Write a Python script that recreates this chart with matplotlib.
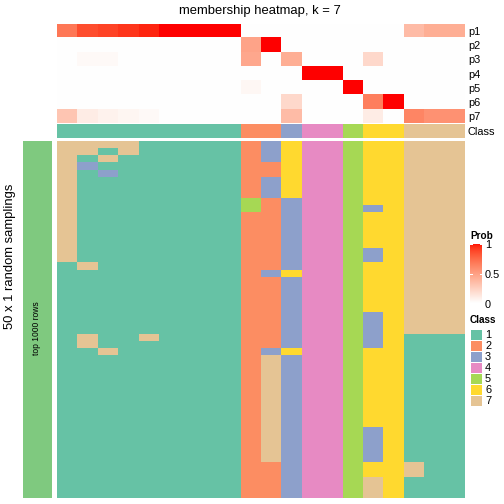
import numpy as np
import matplotlib
matplotlib.use("Agg")
import matplotlib.pyplot as plt
from matplotlib.colors import ListedColormap
from matplotlib.patches import Rectangle

plt.rcParams['font.family'] = ['Liberation Sans', 'DejaVu Sans']

# ---------------- data ----------------
title = "membership heatmap, k = 7"
prob_names = ["p1", "p2", "p3", "p4", "p5", "p6", "p7"]
p1 = [0.68, 0.85, 0.88, 0.92, 0.96, 1, 1, 1, 1, 0, 0, 0, 0, 0, 0, 0, 0, 0.35, 0.42, 0.42]
p2 = [0, 0, 0, 0, 0, 0, 0, 0, 0, 0.47, 1, 0, 0, 0, 0, 0, 0, 0, 0, 0]
p3 = [0, 0.03, 0.03, 0, 0, 0, 0, 0, 0, 0.45, 0, 0.42, 0, 0, 0, 0.2, 0, 0, 0, 0]
p4 = [0, 0, 0, 0, 0, 0, 0, 0, 0, 0, 0, 0, 1, 1, 0, 0, 0, 0, 0, 0]
p5 = [0, 0, 0, 0, 0, 0, 0, 0, 0, 0.04, 0, 0, 0, 0, 1, 0, 0, 0, 0, 0]
p6 = [0, 0, 0, 0, 0, 0, 0, 0, 0, 0, 0, 0.2, 0, 0, 0, 0.65, 1, 0, 0, 0]
p7 = [0.3, 0.1, 0.07, 0.05, 0.03, 0, 0, 0, 0, 0, 0, 0.35, 0, 0, 0, 0.1, 0, 0.62, 0.56, 0.56]
class_row = [1, 1, 1, 1, 1, 1, 1, 1, 1, 2, 2, 3, 4, 4, 5, 6, 6, 7, 7, 7]

# 50 random samplings (rows) x 20 samples (columns), class labels
membership_rows = [
    "77771111123644566777",
    "77171111123644566777",
    "71711111123644566777",
    "73111111122644566777",
    "71311111122644566777",
    "71111111123644566777",
    "71111111123644566777",
    "71111111123644566777",
    "71111111152344566777",
    "71111111152344536777",
    "71111111122344566777",
    "71111111122344566777",
    "71111111122344566777",
    "71111111122344566777",
    "71111111122344566777",
    "71111111122344536777",
    "71111111122344536777",
    "17111111122344566777",
    "11111111123644566777",
    "11111111122344566777",
    "11111111122344566777",
    "11111111122344566777",
    "11111111122344566777",
    "11111111122344566777",
    "11111111122344536777",
    "11111111122344536777",
    "11111111122344536777",
    "17117111122344536111",
    "17111111122344536111",
    "11711111123644566111",
    "11111111127344566111",
    "11111111127344566111",
    "11111111127344566111",
    "11111111127344566111",
    "11111111127344566111",
    "11111111127344566111",
    "11111111127344566111",
    "11111111127344566111",
    "11111111127344566111",
    "11111111127344566111",
    "11111111127344536111",
    "11111111127344536111",
    "11111111127344536111",
    "11111111127344536111",
    "11111111127344536111",
    "11111111122344566711",
    "11111111122344566711",
    "11111111122344576111",
    "11111111122344576111",
    "11111111122344576111",
]
class_labels = ["1", "2", "3", "4", "5", "6", "7"]
prob_ticks = [0, 0.5, 1]
row_annotation_label = "top 1000 rows"
row_title = "50 x 1 random samplings"

# ---------------- styles ----------------
class_colors = ["#66C2A5", "#FC8D62", "#8DA0CB", "#E78AC3", "#A6D854", "#FFD92F", "#E5C494"]
left_bar_color = "#7FC97F"


def lab_to_rgb(L, a, b):
    fy = (L + 16) / 116
    fx = fy + a / 500
    fz = fy - b / 200
    d = 6 / 29
    def finv(t):
        return np.where(t > d, t ** 3, 3 * d * d * (t - 4 / 29))
    X = 0.95047 * finv(fx)
    Y = 1.0 * finv(fy)
    Z = 1.08883 * finv(fz)
    r = 3.2406 * X - 1.5372 * Y - 0.4986 * Z
    g = -0.9689 * X + 1.8758 * Y + 0.0415 * Z
    bb = 0.0557 * X - 0.2040 * Y + 1.0570 * Z
    rgb = np.stack([r, g, bb], axis=-1)
    rgb = np.clip(rgb, 0, 1)
    rgb = np.where(rgb <= 0.0031308, 12.92 * rgb, 1.055 * rgb ** (1 / 2.4) - 0.055)
    return np.clip(rgb, 0, 1)


t = np.linspace(0, 1, 256)
L = 100 + (53.24 - 100) * t
A = 0 + 80.09 * t
B = 0 + 67.20 * t
prob_cmap = ListedColormap(lab_to_rgb(L, A, B))
class_cmap = ListedColormap(class_colors)

W = H = 504
fig = plt.figure(figsize=(7, 7), dpi=72)
LABEL_FS = 11


def px_axes(x0, y0, x1, y1):
    ax = fig.add_axes([x0 / W, 1 - y1 / H, (x1 - x0) / W, (y1 - y0) / H])
    return ax


HX0, HX1 = 57.3, 465

# probability annotation
P = np.array([p1, p2, p3, p4, p5, p6, p7])
ax_p = px_axes(HX0, 24, HX1, 123.3)
ax_p.imshow(P, cmap=prob_cmap, vmin=0, vmax=1, aspect='auto', interpolation='nearest')
ax_p.set_xticks([])
ax_p.yaxis.tick_right()
ax_p.set_yticks(range(len(prob_names)))
ax_p.set_yticklabels(prob_names, fontsize=LABEL_FS)
ax_p.tick_params(axis='y', length=0, pad=3)
for s in ax_p.spines.values():
    s.set_visible(False)

# class annotation
ax_c = px_axes(HX0, 124.2, HX1, 138.2)
ax_c.imshow(np.array([class_row]), cmap=class_cmap, vmin=0.5, vmax=7.5, aspect='auto',
            interpolation='nearest')
ax_c.set_xticks([])
ax_c.yaxis.tick_right()
ax_c.set_yticks([0])
ax_c.set_yticklabels(["Class"], fontsize=LABEL_FS)
ax_c.tick_params(axis='y', length=0, pad=3)
for s in ax_c.spines.values():
    s.set_visible(False)

# main membership heatmap
M = np.array([[int(ch) for ch in r] for r in membership_rows])
ax_m = px_axes(HX0, 141, HX1, 498)
ax_m.imshow(M, cmap=class_cmap, vmin=0.5, vmax=7.5, aspect='auto', interpolation='nearest')
ax_m.axis('off')

# left row annotation bar
ax_l = px_axes(22.7, 141, 51, 498)
ax_l.imshow(np.ones((len(membership_rows), 1)), cmap=ListedColormap([left_bar_color]),
            aspect='auto', interpolation='nearest')
ax_l.axis('off')
ax_l.text(0.5, 0.476, row_annotation_label, rotation=90, ha='center', va='center',
          fontsize=8.5, transform=ax_l.transAxes)

fig.text(10 / W, 1 - 256 / H, row_title, rotation=90, ha='center', va='center', fontsize=13)
fig.text(260 / W, 1 - 11 / H, title, ha='center', va='center', fontsize=13)

# Prob legend
fig.text(470 / W, 1 - 236 / H, "Prob", ha='left', va='center', fontsize=10, fontweight='bold')
ax_cb = px_axes(470, 244.5, 482, 303.5)
grad = np.linspace(1, 0, 200).reshape(-1, 1)
ax_cb.imshow(grad, cmap=prob_cmap, vmin=0, vmax=1, aspect='auto',
             extent=[0, 1, 0, 1], interpolation='bilinear')
ax_cb.set_xlim(0, 1)
ax_cb.set_ylim(0, 1)
ax_cb.set_xticks([])
ax_cb.yaxis.tick_right()
ax_cb.set_yticks(prob_ticks)
ax_cb.set_yticklabels([("%g" % v) for v in prob_ticks], fontsize=LABEL_FS)
ax_cb.tick_params(axis='y', length=0, pad=3)
for v in prob_ticks:
    ax_cb.plot([0, 0.17], [v, v], color='white', lw=1)
    ax_cb.plot([0.83, 1], [v, v], color='white', lw=1)
for s in ax_cb.spines.values():
    s.set_visible(False)

# Class legend
fig.text(470 / W, 1 - 320 / H, "Class", ha='left', va='center', fontsize=10, fontweight='bold')
ax_lg = px_axes(470, 328.5, 482, 328.5 + 11 * len(class_labels))
ax_lg.set_xlim(0, 1)
ax_lg.set_ylim(len(class_labels), 0)
for i, col in enumerate(class_colors):
    ax_lg.add_patch(Rectangle((0, i), 1, 1, facecolor=col, edgecolor='white', lw=1))
ax_lg.set_xticks([])
ax_lg.yaxis.tick_right()
ax_lg.set_yticks(np.arange(len(class_labels)) + 0.5)
ax_lg.set_yticklabels(class_labels, fontsize=LABEL_FS)
ax_lg.tick_params(axis='y', length=0, pad=3)
for s in ax_lg.spines.values():
    s.set_visible(False)

fig.savefig("out.png", dpi=72)
